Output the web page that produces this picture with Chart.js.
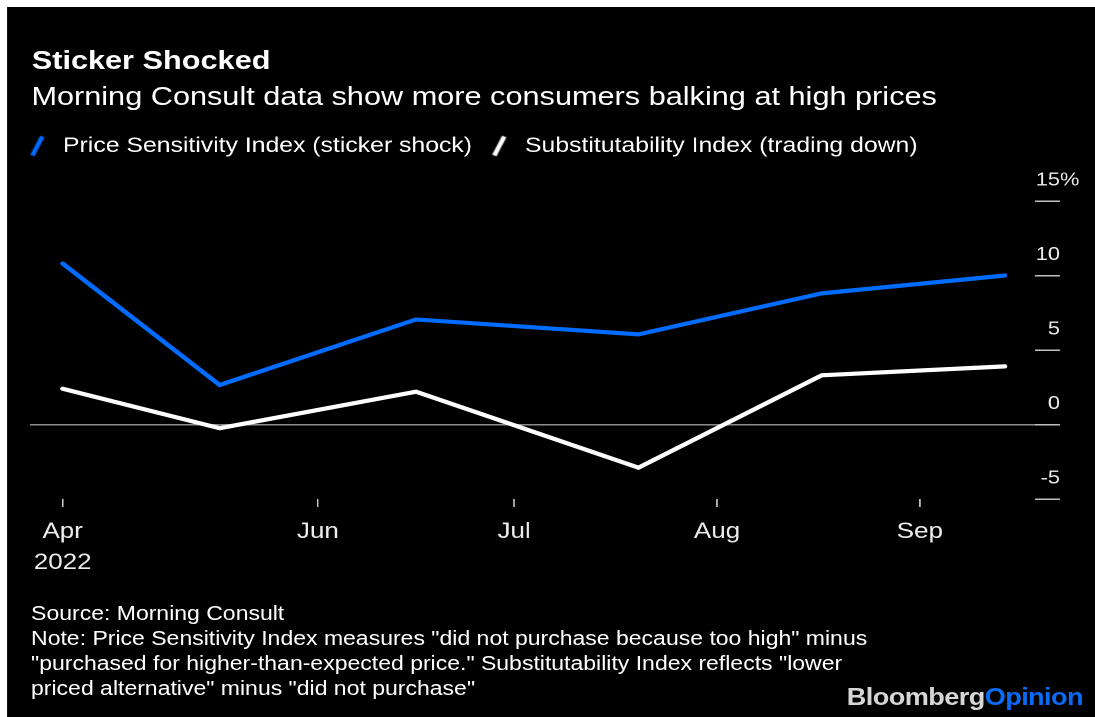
<!DOCTYPE html>
<html>
<head>
<meta charset="utf-8">
<script src="https://cdn.jsdelivr.net/npm/chart.js@4.4.1/dist/chart.umd.min.js"></script>
<style>
  html, body { margin:0; padding:0; background:#fff; overflow:hidden; width:1095px; height:717px; }
  #wrap { position:absolute; left:0; top:0; width:928px; height:717px; transform:scaleX(1.18); transform-origin:0 0; font-family:"Liberation Sans", Arial, Helvetica, sans-serif; color:#fff; }
  #bg { position:absolute; left:5.93px; top:7px; right:0; bottom:0; background:#000; }
  #c { position:absolute; left:0; top:0; }
  .txt { position:absolute; white-space:nowrap; }
  #title { left:26.9px; top:46.5px; font-size:26px; font-weight:bold; line-height:26px; }
  #subtitle { left:26.6px; top:82.5px; font-size:26px; line-height:26px; }
  #footer { left:26.3px; top:601.2px; font-size:19.5px; line-height:25px; }
  #logo { right:10.2px; top:685.5px; font-size:23px; line-height:23px; font-weight:bold; letter-spacing:-0.5px; }
  #logo .b { color:#d6d6d6; }
  #logo .o { color:#0a6cf5; }
</style>
</head>
<body>
<div id="wrap">
  <div id="bg"></div>
  <canvas id="c" width="928" height="717" style="width:928px;height:717px"></canvas>
  <div id="title" class="txt">Sticker Shocked</div>
  <div id="subtitle" class="txt">Morning Consult data show more consumers balking at high prices</div>
  <div id="footer" class="txt">Source: Morning Consult<br>Note: Price Sensitivity Index measures "did not purchase because too high" minus<br>"purchased for higher-than-expected price." Substitutability Index reflects "lower<br>priced alternative" minus "did not purchase"</div>
  <div id="logo" class="txt"><span class="b">Bloomberg</span><span class="o">Opinion</span></div>
</div>
<script>
// ---- data ----
const seriesNames = ['Price Sensitivity Index (sticker shock)', 'Substitutability Index (trading down)'];
const dates = ['2022-04-23', '2022-05-17', '2022-06-16', '2022-07-20', '2022-08-17', '2022-09-14'];
const priceSensitivity = [10.8, 2.65, 7.05, 6.05, 8.8, 10.0];
const substitutability = [2.4, -0.25, 2.2, -2.9, 3.3, 3.9];
const xTickDates = ['2022-04-23', '2022-06-01', '2022-07-01', '2022-08-01', '2022-09-01'];
const xTickLabels = ['Apr', 'Jun', 'Jul', 'Aug', 'Sep'];
const firstTickYear = '2022';
const yTickValues = [-5, 0, 5, 10, 15];
const yTickLabels = ['-5', '0', '5', '10', '15%'];
const seriesColors = ['#006bff', '#ffffff'];

// ---- helpers ----
function dayNum(s) {
  const [y, m, d] = s.split('-').map(Number);
  return (Date.UTC(y, m - 1, d) - Date.UTC(2022, 5, 1)) / 86400000;
}
function slashIcon(color) {
  const c = document.createElement('canvas');
  c.width = 20; c.height = 24;
  const g = c.getContext('2d');
  g.strokeStyle = color; g.lineWidth = 4; g.lineCap = 'butt';
  g.beginPath(); g.moveTo(2.8, 21.5); g.lineTo(11.2, 2.5); g.stroke();
  return c;
}
const tickDays = xTickDates.map(dayNum);
const FONT = '"Liberation Sans", Arial, Helvetica, sans-serif';
Chart.defaults.font.family = FONT;
Chart.defaults.color = '#ececec';

const yLabelPlugin = {
  id: 'yLabels',
  afterDraw(chart) {
    const s = chart.scales.y, ctx = chart.ctx;
    ctx.save();
    ctx.font = '18.5px ' + FONT;
    ctx.fillStyle = '#ececec';
    ctx.textBaseline = 'alphabetic';
    ctx.textAlign = 'left';
    yTickValues.forEach((v, i) => {
      const lab = yTickLabels[i];
      const num = lab.replace('%', '');
      const w = ctx.measureText(num).width;
      ctx.fillText(lab, s.right - w, s.getPixelForValue(v) - 15.5);
    });
    ctx.restore();
  }
};

new Chart(document.getElementById('c'), {
  type: 'line',
  data: {
    datasets: [
      { label: seriesNames[0], data: dates.map((d, i) => ({ x: dayNum(d), y: priceSensitivity[i] })),
        borderColor: seriesColors[0], backgroundColor: seriesColors[0], borderWidth: 4.2, pointRadius: 0,
        borderCapStyle: 'round', tension: 0 },
      { label: seriesNames[1], data: dates.map((d, i) => ({ x: dayNum(d), y: substitutability[i] })),
        borderColor: seriesColors[1], backgroundColor: seriesColors[1], borderWidth: 4.2, pointRadius: 0,
        borderCapStyle: 'round', tension: 0 }
    ]
  },
  options: {
    responsive: false,
    animation: false,
    devicePixelRatio: 2,
    layout: { padding: { left: 8.5, top: 117.7, right: 29.7, bottom: 138 } },
    plugins: {
      legend: {
        position: 'top', align: 'start',
        labels: {
          color: '#ffffff', font: { size: 21 }, padding: 17.8, usePointStyle: true, pointStyleWidth: 16.6,
          generateLabels(chart) {
            return chart.data.datasets.map((ds, i) => ({
              text: ds.label, fillStyle: ds.borderColor, strokeStyle: ds.borderColor, fontColor: '#ffffff',
              pointStyle: slashIcon(ds.borderColor), lineWidth: 0, hidden: false, datasetIndex: i
            }));
          }
        }
      },
      tooltip: { enabled: false }
    },
    scales: {
      x: {
        type: 'linear', position: 'bottom', min: -44, max: 109.6,
        border: { display: false },
        grid: { display: true, drawOnChartArea: false, drawTicks: true, tickLength: 8, tickColor: '#c8c8c8', lineWidth: 1.3 },
        afterBuildTicks(scale) { scale.ticks = tickDays.map(v => ({ value: v })); },
        afterFit(scale) { scale.height = 80; },
        ticks: {
          autoSkip: false, maxRotation: 0, minRotation: 0, padding: 9.5, color: '#ececec',
          font: { size: 22, lineHeight: 31 / 22 },
          callback(value, index) { return index === 0 ? [xTickLabels[0], firstTickYear] : xTickLabels[index]; }
        }
      },
      y: {
        type: 'linear', position: 'right', min: -5, max: 15,
        border: { display: false },
        afterBuildTicks(scale) { scale.ticks = yTickValues.map(v => ({ value: v })); },
        afterFit(scale) { scale.width = 21.2; },
        grid: {
          display: true, drawTicks: true, tickLength: 21.2, lineWidth: 1.5, tickColor: '#c0c0c0',
          color: (c) => (c.tick && c.tick.value === 0) ? '#8c8c8c' : 'rgba(0,0,0,0)'
        },
        ticks: { display: false }
      },
      padTop: {
        type: 'linear', position: 'top', display: true,
        grid: { display: false }, ticks: { display: false }, border: { display: false },
        afterFit(scale) { scale.height = 34.5; }
      },
      padLeft: {
        type: 'linear', position: 'left', display: true,
        grid: { display: false }, ticks: { display: false }, border: { display: false },
        afterFit(scale) { scale.width = 16.9; }
      }
    }
  },
  plugins: [yLabelPlugin]
});
</script>
</body>
</html>
